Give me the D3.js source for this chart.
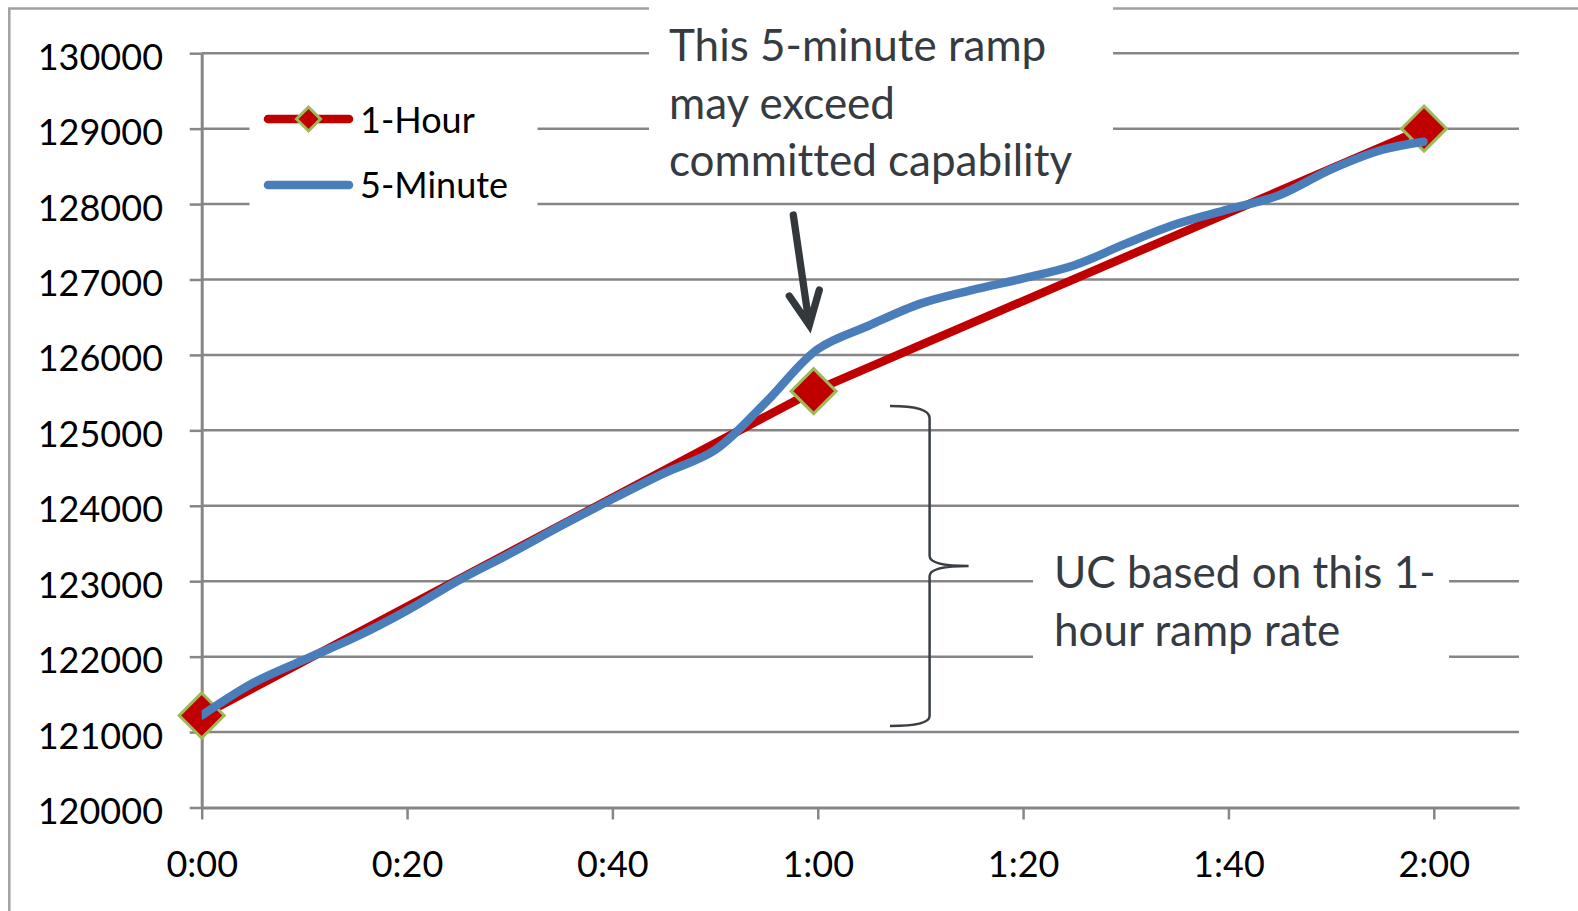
<!DOCTYPE html>
<html>
<head>
<meta charset="utf-8">
<script src="https://cdn.jsdelivr.net/npm/d3@7"></script>
<style>
  html, body { margin: 0; padding: 0; background: #fff; }
  svg { display: block; }
  text { font-family: Lato, "Open Sans", sans-serif; font-variant-ligatures: none; }
</style>
</head>
<body>
<svg id="chart" width="1578" height="911"></svg>
<script>
// Load forecast: hourly schedule vs 5-minute profile
const yTicks = [120000, 121000, 122000, 123000, 124000, 125000, 126000, 127000, 128000, 129000, 130000];
const xTickMinutes = [0, 20, 40, 60, 80, 100, 120];
const xTickLabels = ["0:00", "0:20", "0:40", "1:00", "1:20", "1:40", "2:00"];

const hourTimes = [0, 59.6, 119.05];
const hourValues = [121220, 125520, 129000];

const fiveMinTimes = [0, 5, 10, 15, 20, 25, 30, 35, 40, 45, 50, 55, 60,
                      65, 70, 75, 80, 85, 90, 95, 100, 105, 110, 115, 119];
const fiveMinValues = [121220, 121650, 121960, 122260, 122612, 123010, 123364, 123734, 124090, 124430, 124740, 125380, 126077,
                       126390, 126680, 126860, 127014, 127190, 127475, 127738, 127930, 128120, 128460, 128720, 128827];

const seriesNames = ["1-Hour", "5-Minute"];
const noteTop = ["This 5-minute ramp", "may exceed", "committed capability"];
const noteRight = ["UC based on this 1-", "hour ramp rate"];

const RED = "#c00000", BLUE = "#4a7ebb", MARKER_EDGE = "#9bbb59";
const GRID = "#868686", INK = "#353b41";

const svg = d3.select("#chart");
const plotLeft = 201.7, plotRight = 1519, plotTop = 53.2, plotBottom = 807.5;

const x = d3.scaleLinear().domain([0, 128.3]).range([plotLeft, plotRight]);
const y = d3.scaleLinear().domain([120000, 130000]).range([plotBottom, plotTop]);

// outer chart frame (runs off the right and bottom edges)
svg.append("rect")
  .attr("x", 9.3).attr("y", 8.5).attr("width", 1620).attr("height", 960)
  .attr("fill", "none").attr("stroke", "#a0a0a0").attr("stroke-width", 2.5);

// horizontal gridlines
svg.append("g").selectAll("line")
  .data(yTicks.filter(v => v !== 120000))
  .join("line")
  .attr("x1", plotLeft).attr("x2", plotRight)
  .attr("y1", d => y(d)).attr("y2", d => y(d))
  .attr("stroke", GRID).attr("stroke-width", 2.5);

// axes
const yAxis = svg.append("g")
  .attr("transform", `translate(${plotLeft},0)`)
  .call(d3.axisLeft(y).tickValues(yTicks).tickFormat(d3.format("d")).tickSize(12).tickSizeOuter(0).tickPadding(26.7));
const xAxis = svg.append("g")
  .attr("transform", `translate(0,${plotBottom})`)
  .call(d3.axisBottom(x).tickValues(xTickMinutes).tickFormat((d, i) => xTickLabels[i]).tickSize(12).tickSizeOuter(0));

[yAxis, xAxis].forEach(g => {
  g.select(".domain").attr("stroke", GRID).attr("stroke-width", 3);
  g.selectAll(".tick line").attr("stroke", GRID).attr("stroke-width", 2.5);
  g.selectAll(".tick text").attr("fill", "#000").style("font-size", "36px").style("font-family", "Lato, 'Open Sans', sans-serif");
});
yAxis.selectAll(".tick text").attr("dy", 16);
xAxis.selectAll(".tick text").attr("y", 69).attr("dy", 0);

// white backing boxes for legend and notes
const boxes = [
  { x: 249.5, y: 70, w: 288, h: 175 },
  { x: 649, y: 0, w: 464, h: 190 },
  { x: 1033, y: 540, w: 416, h: 150 }
];
svg.append("g").selectAll("rect").data(boxes).join("rect")
  .attr("x", d => d.x).attr("y", d => d.y).attr("width", d => d.w).attr("height", d => d.h)
  .attr("fill", "#fff");

// plot clip
svg.append("clipPath").attr("id", "plot")
  .append("rect").attr("x", plotLeft).attr("y", 0).attr("width", plotRight - plotLeft).attr("height", plotBottom);

const diamond = r => `M0,${-r}L${r},0L0,${r}L${-r},0Z`;

// 1-Hour series
const hourData = hourTimes.map((t, i) => [t, hourValues[i]]);
svg.append("path")
  .attr("clip-path", "url(#plot)")
  .attr("d", d3.line().x(d => x(d[0])).y(d => y(d[1]))(hourData))
  .attr("fill", "none").attr("stroke", RED).attr("stroke-width", 8.5)
  .attr("stroke-linecap", "round").attr("stroke-linejoin", "round");
svg.append("g").selectAll("path").data(hourData).join("path")
  .attr("transform", d => `translate(${x(d[0])},${y(d[1])})`)
  .attr("d", diamond(22.5))
  .attr("fill", RED).attr("stroke", MARKER_EDGE).attr("stroke-width", 3);

// 5-Minute series (smoothed)
const fiveData = fiveMinTimes.map((t, i) => [t, fiveMinValues[i]]);
svg.append("path")
  .attr("clip-path", "url(#plot)")
  .attr("d", d3.line().x(d => x(d[0])).y(d => y(d[1])).curve(d3.curveCatmullRom.alpha(0.5))(fiveData))
  .attr("fill", "none").attr("stroke", BLUE).attr("stroke-width", 8.5)
  .attr("stroke-linecap", "round").attr("stroke-linejoin", "round");

// legend
const legend = svg.append("g");
[[RED, 119, 133], [BLUE, 185, 198]].forEach(([c, ly, ty], i) => {
  legend.append("line").attr("x1", 268).attr("x2", 349).attr("y1", ly).attr("y2", ly)
    .attr("stroke", c).attr("stroke-width", 8.5).attr("stroke-linecap", "round");
  if (i === 0) {
    legend.append("path").attr("transform", `translate(308.5,${ly})`).attr("d", diamond(12))
      .attr("fill", RED).attr("stroke", MARKER_EDGE).attr("stroke-width", 3);
  }
  legend.append("text").attr("x", 360).attr("y", ty).attr("fill", "#000")
    .style("font-size", "36px").text(seriesNames[i]);
});

// notes
const noteText = (lines, nx, ny) => {
  const t = svg.append("text").attr("fill", INK).style("font-size", "44px");
  lines.forEach((s, i) => t.append("tspan").attr("x", nx).attr("y", ny + i * 57.5).text(s));
};
noteText(noteTop, 669, 61);
noteText(noteRight, 1054, 588);

// arrow toward the 5-minute ramp
svg.append("path")
  .attr("d", "M793.3,215L809.3,325M789.3,296L809.3,325L819.3,290")
  .attr("fill", "none").attr("stroke", "#33383d").attr("stroke-width", 7.3)
  .attr("stroke-linecap", "round").attr("stroke-linejoin", "miter");

// brace spanning the hourly ramp
svg.append("path")
  .attr("d", "M890,406Q929.6,406 929.6,418L929.6,556Q929.6,566 968.6,566Q929.6,566 929.6,576L929.6,716Q929.6,726 890,726")
  .attr("fill", "none").attr("stroke", "#3a3f44").attr("stroke-width", 2.5);
</script>
</body>
</html>
